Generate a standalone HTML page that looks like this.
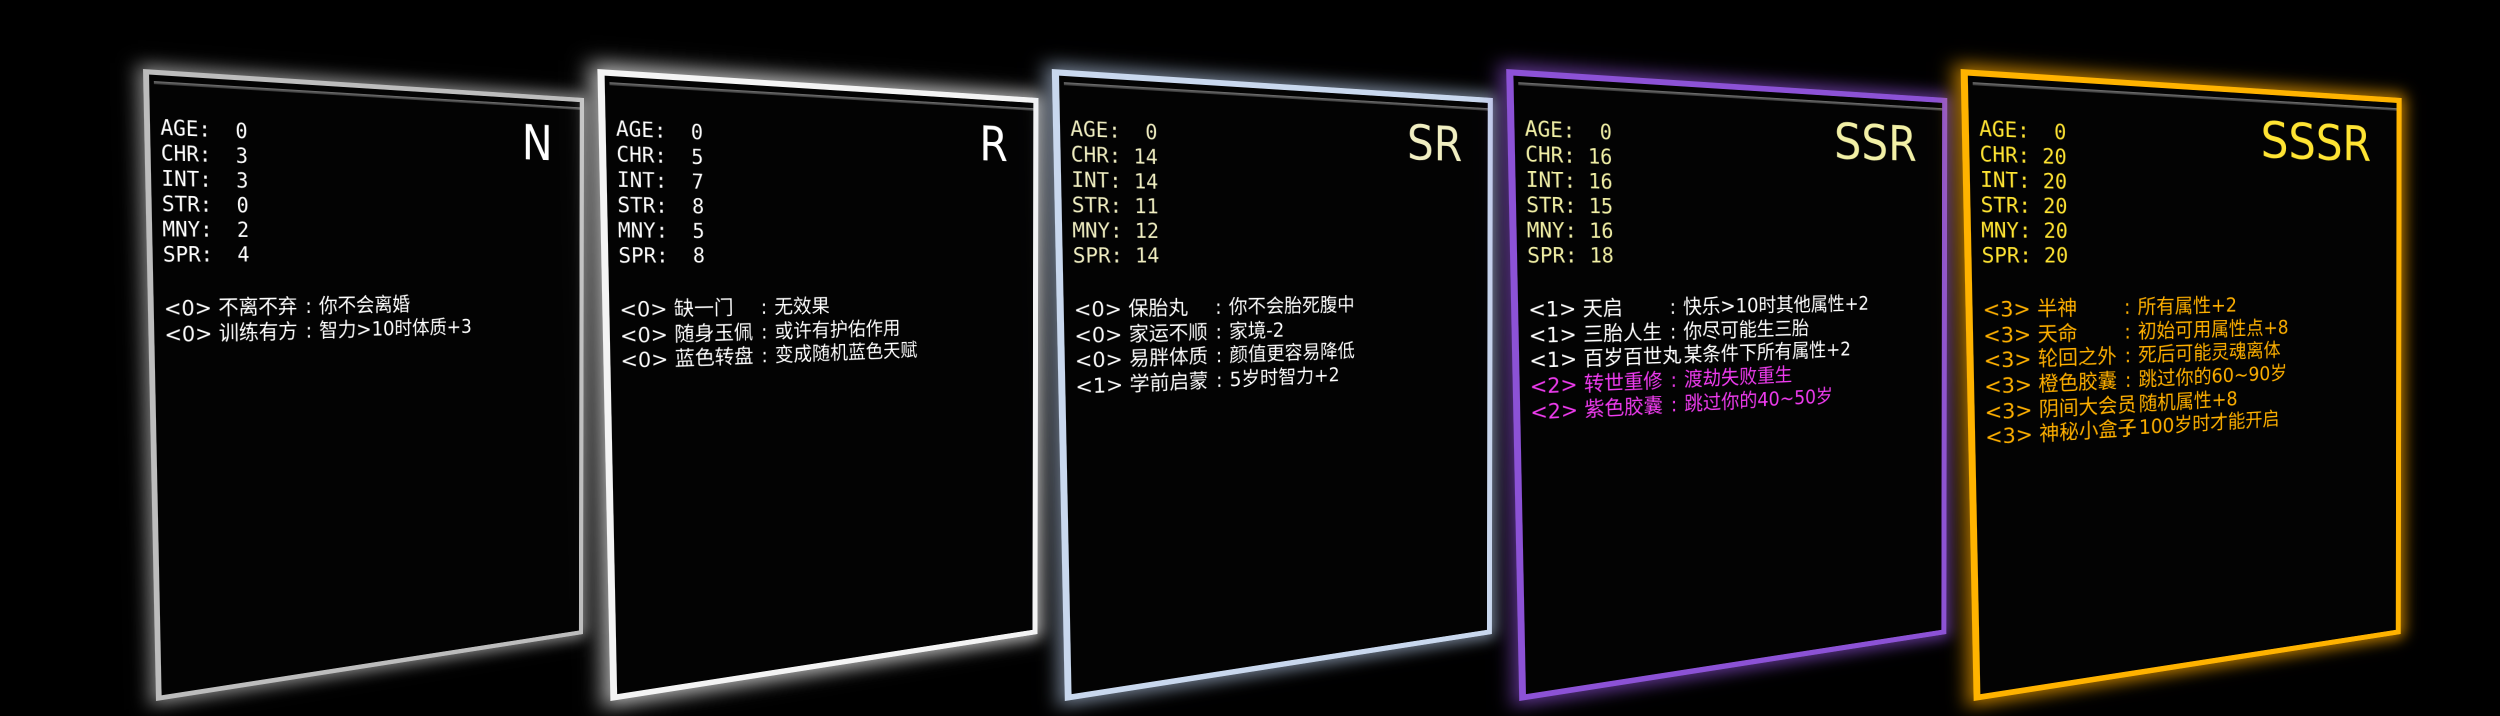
<!DOCTYPE html>
<html><head><meta charset="utf-8"><style>
html,body{margin:0;padding:0;background:#000;width:2500px;height:716px;overflow:hidden;}
.card{position:absolute;left:0;top:0;width:440px;height:631px;background:#030303;box-sizing:border-box;transform-origin:0 0;}
.bevel{position:absolute;left:4px;right:0;top:6px;height:3px;background:linear-gradient(#777,#333);}
.in{position:absolute;left:0;top:0;width:500px;height:620px;transform:scaleX(0.87);transform-origin:0 0;}
.stats{position:absolute;left:10px;top:39px;font-family:"DejaVu Sans Mono","Liberation Mono",monospace;font-size:21px;line-height:25px;white-space:pre;}
.title{position:absolute;right:42px;top:20px;font-family:"DejaVu Sans","Liberation Sans",sans-serif;font-size:54px;line-height:60px;}
.traits{position:absolute;left:10px;top:218px;font-family:"DejaVu Sans","Noto Sans CJK SC",sans-serif;font-size:21px;}
.traits div{display:block;height:25.7px;line-height:25.7px;position:relative;white-space:pre;}
.traits .n{position:absolute;left:0;top:0;}
.traits .c{position:absolute;left:148px;top:0;}
.traits .d{position:absolute;left:163px;top:0;}
</style></head><body>

<div class="card" id="c0" style="border:5px solid #bdbdbd;box-shadow:0 0 16px 4px rgba(230,230,230,.6);color:#fff">
<div class="bevel"></div><div class="in">
<div class="stats">AGE:  0
CHR:  3
INT:  3
STR:  0
MNY:  2
SPR:  4</div>
<div class="title">N</div>
<div class="traits"><div><span class="n">&lt;0&gt; 不离不弃</span><span class="c">:</span><span class="d">你不会离婚</span></div><div><span class="n">&lt;0&gt; 训练有方</span><span class="c">:</span><span class="d">智力&gt;10时体质+3</span></div></div>
</div></div>

<div class="card" id="c1" style="border:6px solid #f4f4f4;box-shadow:0 0 18px 6px rgba(255,255,255,.7);color:#fff">
<div class="bevel"></div><div class="in">
<div class="stats">AGE:  0
CHR:  5
INT:  7
STR:  8
MNY:  5
SPR:  8</div>
<div class="title">R</div>
<div class="traits"><div><span class="n">&lt;0&gt; 缺一门</span><span class="c">:</span><span class="d">无效果</span></div><div><span class="n">&lt;0&gt; 随身玉佩</span><span class="c">:</span><span class="d">或许有护佑作用</span></div><div><span class="n">&lt;0&gt; 蓝色转盘</span><span class="c">:</span><span class="d">变成随机蓝色天赋</span></div></div>
</div></div>

<div class="card" id="c2" style="border:6px solid #c9d8ee;box-shadow:0 0 16px 5px rgba(190,210,240,.6);color:#f1efc2">
<div class="bevel"></div><div class="in">
<div class="stats">AGE:  0
CHR: 14
INT: 14
STR: 11
MNY: 12
SPR: 14</div>
<div class="title">SR</div>
<div class="traits" style="color:#fff"><div><span class="n">&lt;0&gt; 保胎丸</span><span class="c">:</span><span class="d">你不会胎死腹中</span></div><div><span class="n">&lt;0&gt; 家运不顺</span><span class="c">:</span><span class="d">家境-2</span></div><div><span class="n">&lt;0&gt; 易胖体质</span><span class="c">:</span><span class="d">颜值更容易降低</span></div><div><span class="n">&lt;1&gt; 学前启蒙</span><span class="c">:</span><span class="d">5岁时智力+2</span></div></div>
</div></div>

<div class="card" id="c3" style="border:6px solid #8c52d6;box-shadow:0 0 16px 5px rgba(140,80,210,.65);color:#f2f0a6">
<div class="bevel"></div><div class="in">
<div class="stats">AGE:  0
CHR: 16
INT: 16
STR: 15
MNY: 16
SPR: 18</div>
<div class="title">SSR</div>
<div class="traits" style="color:#fff"><div><span class="n">&lt;1&gt; 天启</span><span class="c">:</span><span class="d">快乐&gt;10时其他属性+2</span></div><div><span class="n">&lt;1&gt; 三胎人生</span><span class="c">:</span><span class="d">你尽可能生三胎</span></div><div><span class="n">&lt;1&gt; 百岁百世丸</span><span class="c">:</span><span class="d">某条件下所有属性+2</span></div><div style="color:#f03cf0"><span class="n">&lt;2&gt; 转世重修</span><span class="c">:</span><span class="d">渡劫失败重生</span></div><div style="color:#f03cf0"><span class="n">&lt;2&gt; 紫色胶囊</span><span class="c">:</span><span class="d">跳过你的40~50岁</span></div></div>
</div></div>

<div class="card" id="c4" style="border:6px solid #ffb300;box-shadow:0 0 16px 5px rgba(255,170,0,.7);color:#ffe433">
<div class="bevel"></div><div class="in">
<div class="stats">AGE:  0
CHR: 20
INT: 20
STR: 20
MNY: 20
SPR: 20</div>
<div class="title">SSSR</div>
<div class="traits" style="color:#ffb000"><div><span class="n">&lt;3&gt; 半神</span><span class="c">:</span><span class="d">所有属性+2</span></div><div><span class="n">&lt;3&gt; 天命</span><span class="c">:</span><span class="d">初始可用属性点+8</span></div><div><span class="n">&lt;3&gt; 轮回之外</span><span class="c">:</span><span class="d">死后可能灵魂离体</span></div><div><span class="n">&lt;3&gt; 橙色胶囊</span><span class="c">:</span><span class="d">跳过你的60~90岁</span></div><div><span class="n">&lt;3&gt; 阴间大会员</span><span class="c">:</span><span class="d">随机属性+8</span></div><div><span class="n">&lt;3&gt; 神秘小盒子</span><span class="c">:</span><span class="d">100岁时才能开启</span></div></div>
</div></div>

<script>
function m3d(w,h,q){
 var x0=q[0],y0=q[1],x1=q[2],y1=q[3],x2=q[4],y2=q[5],x3=q[6],y3=q[7];
 var dx1=x1-x2,dx2=x3-x2,dx3=x0-x1+x2-x3,dy1=y1-y2,dy2=y3-y2,dy3=y0-y1+y2-y3;
 var den=dx1*dy2-dx2*dy1;
 var g=(dx3*dy2-dx2*dy3)/den, hh=(dx1*dy3-dx3*dy1)/den;
 var a=x1-x0+g*x1,b=x3-x0+hh*x3,c=x0,d=y1-y0+g*y1,e=y3-y0+hh*y3,f=y0;
 return 'matrix3d('+[a/w,d/w,0,g/w,b/h,e/h,0,hh/h,0,0,1,0,c,f,0,1].join(',')+')';
}
for(var i=0;i<5;i++){
 var dx=i*454.4;
 var q=[143+dx,69,584+dx,98,583+dx,634,156+dx,701];
 document.getElementById('c'+i).style.transform=m3d(440,631,q);
}
</script>
</body></html>
